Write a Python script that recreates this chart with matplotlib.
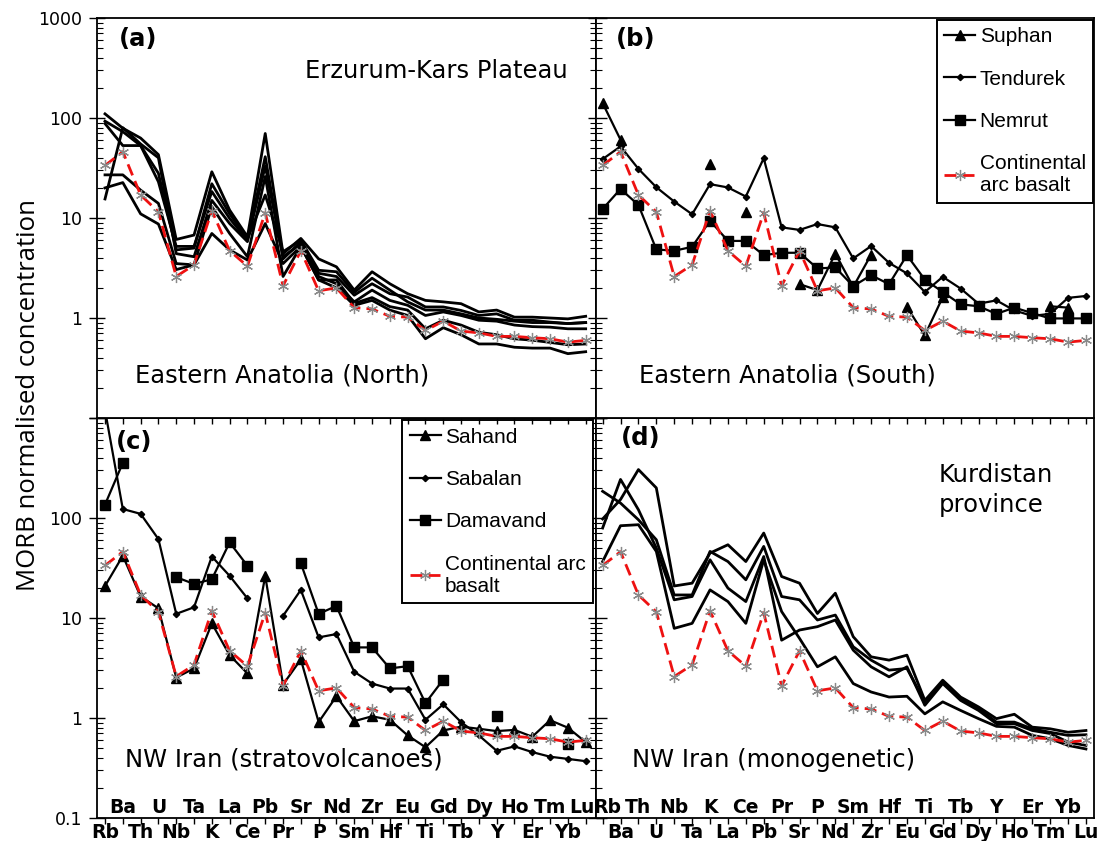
import numpy as np
import matplotlib
matplotlib.use("Agg")
import matplotlib.pyplot as plt
from matplotlib.ticker import FixedLocator, FixedFormatter, LogLocator, NullFormatter

nan = np.nan
elements = ["Rb", "Ba", "Th", "U", "Nb", "Ta", "K", "La", "Ce", "Pb", "Pr", "Sr", "P", "Nd",
            "Sm", "Zr", "Hf", "Eu", "Ti", "Gd", "Tb", "Dy", "Y", "Ho", "Er", "Tm", "Yb", "Lu"]

# Continental arc basalt reference pattern (same in all panels)
cab = [33.5, 46, 17, 11.5, 2.6, 3.4, 11.8, 4.7, 3.3, 11.3, 2.1, 4.7, 1.87, 2.0, 1.27, 1.23,
       1.04, 1.02, 0.75, 0.93, 0.74, 0.71, 0.655, 0.655, 0.635, 0.62, 0.574, 0.597]

# (a) Eastern Anatolia (North) - Erzurum-Kars Plateau
north_1 = [110, 79, 63, 43, 6.1, 6.75, 29, 12, 6.5, 70, 4.4, 6.25, 3.9, 3.25, 1.9, 2.9, 2.2, 1.75,
           1.5, 1.45, 1.39, 1.15, 1.2, 1.02, 1.02, 1.0, 0.98, 1.04]
north_2 = [93, 73, 53, 23, 5.2, 5.2, 18.4, 9.9, 6.0, 41, 3.9, 5.8, 2.8, 2.6, 1.69, 2.2, 1.75, 1.62,
           1.29, 1.29, 1.19, 1.06, 1.1, 0.95, 0.95, 0.91, 0.88, 0.9]
north_3 = [15.5, 80, 55, 40, 4.4, 4.1, 15, 8.8, 5.8, 33, 4.1, 5.5, 2.6, 2.2, 1.45, 1.9, 1.5, 1.34,
           1.06, 1.15, 1.06, 0.95, 0.93, 0.85, 0.82, 0.81, 0.78, 0.78]
north_4 = [27, 27, 19, 14, 3.5, 3.4, 13, 7.0, 4.1, 26, 2.6, 5.2, 2.4, 2.4, 1.4, 1.6, 1.3, 1.2,
           0.78, 0.95, 0.85, 0.72, 0.68, 0.62, 0.6, 0.57, 0.54, 0.55]
north_5 = [20, 22.6, 11, 8.7, 3.05, 3.4, 7.0, 4.8, 3.8, 8.8, 3.5, 5.2, 2.4, 2.0, 1.34, 1.5, 1.2, 1.06,
           0.62, 0.8, 0.68, 0.55, 0.55, 0.51, 0.5, 0.5, 0.44, 0.46]
north_6 = [88, 53, 53, 28, 4.8, 5.0, 22, 11, 6.2, 17, 4.6, 6.0, 3.0, 2.9, 1.8, 2.5, 1.9, 1.45,
           1.2, 1.2, 1.1, 1.0, 0.97, 0.93, 0.9, 0.9, 0.88, 0.9]

# (b) Eastern Anatolia (South)
suphan = [141, 60.6, nan, nan, nan, nan, 34.8, nan, 11.6, nan, nan, 2.18, 1.9, 4.4, 2.05, 4.3,
          nan, 1.29, 0.67, 1.62, nan, nan, nan, nan, nan, 1.31, 1.27, nan]
tendurek = [38.8, 52, 31, 20.3, 14.6, 10.9, 21.8, 20.2, 16.4, 39.6, 8.06, 7.6, 8.7, 8.06, 3.94,
            5.24, 3.56, 2.79, 1.82, 2.58, 1.97, 1.39, 1.5, 1.19, 1.05, 1.1, 1.59, 1.66]
nemrut = [12.3, 19.5, 13.5, 4.85, 4.7, 5.15, 9.4, 5.9, 5.9, 4.25, 4.49, 4.49, 3.13, 3.2, 2.08,
          2.68, 2.18, 4.25, 2.42, 1.82, 1.37, 1.31, 1.1, 1.27, 1.12, 0.99, 0.99, 0.99]

# (c) NW Iran stratovolcanoes
sahand = [20.9, 41.9, 16.4, 12.5, 2.54, 3.13, 8.84, 4.25, 2.79, 26.4, 2.16, 3.85, 0.91, 1.65, 0.93,
          1.04, 0.96, 0.67, 0.51, 0.75, 0.82, 0.78, 0.74, 0.76, 0.65, 0.95, 0.8, 0.574]
sabalan = [1200, 123, 110, 61.5, 11.0, 12.8, 41.2, 26.4, 15.7, nan, 10.5, 19.1, 6.4, 6.91, 2.9,
           2.21, 1.97, 1.97, 0.96, 1.37, 0.91, 0.67, 0.47, 0.52, 0.456, 0.41, 0.39, 0.37]
damavand = [136, 356, nan, nan, 25.6, 21.9, 24.4, 57, 33.3, nan, nan, 35.3, 11.0, 13.2, 5.08,
            5.08, 3.13, 3.3, 1.41, 2.42, nan, nan, 1.04, nan, nan, nan, 0.55, nan]

# (d) NW Iran monogenetic - Kurdistan province
kurd_1 = [97.8, 153, 305, 200, 20.9, 22.3, 44.6, 54, 36.7, 70.7, 26, 22.3, 11.1, 17.7, 6.5, 4.09,
          3.79, 4.25, 1.5, 2.39, 1.62, 1.29, 0.985, 1.09, 0.81, 0.78, 0.72, 0.75]
kurd_2 = [185, 141, 96, 60.6, 17, 17, 46.3, 36.7, 24.1, 52, 16.4, 15.2, 9.55, 10.7, 5.16, 3.79,
          3.01, 3.13, 1.45, 2.30, 1.56, 1.24, 0.91, 0.91, 0.78, 0.72, 0.67, 0.68]
kurd_3 = [79.4, 243, 121, 50, 15.2, 16.4, 38.2, 19.9, 14.6, 41.2, 6.0, 7.58, 8.19, 9.55, 4.77,
          3.25, 2.58, 3.25, 1.34, 2.21, 1.5, 1.19, 0.877, 0.877, 0.75, 0.70, 0.574, 0.532]
kurd_4 = [36.7, 83.7, 85.7, 46.3, 7.88, 8.84, 19.1, 14.6, 8.84, 38.2, 11.6, 6.25, 3.25, 4.09, 2.21,
          1.82, 1.62, 1.65, 1.10, 1.45, 1.19, 0.985, 0.825, 0.81, 0.67, 0.62, 0.532, 0.49]

x = np.arange(len(elements))

W, H = 1100, 841
fig = plt.figure(figsize=(W / 100, H / 100), dpi=100)

def px_axes(x0, x1, y0, y1):
    return fig.add_axes([x0 / W, 1 - y1 / H, (x1 - x0) / W, (y1 - y0) / H])

ax_c = px_axes(97, 596, 418, 818)
ax_d = px_axes(596, 1094, 418, 818)
ax_a = px_axes(97, 596, 18, 418)
ax_b = px_axes(596, 1094, 18, 418)
ax_a.set_zorder(3)
ax_b.set_zorder(3)

RED = "#ee1111"
GREY = "#8a8a8a"

def plot_cab(ax):
    return ax.plot(x, cab, color=RED, lw=2.0, dashes=(4.3, 2.2), marker=(6, 2, 0),
                   ms=8, mec=GREY, mfc=GREY, mew=0.9, zorder=5,
                   label="Continental arc basalt")[0]

def style(ax, top, right_panel):
    ax.set_yscale("log")
    ax.set_ylim(0.1, 1000)
    if right_panel:
        ax.set_xlim(-0.37, 27.45)
    else:
        ax.set_xlim(-0.45, 27.58)
    ax.set_xticks(x)
    ax.set_xticklabels([])
    ax.tick_params(axis="x", direction="out", length=4, width=1.0, bottom=True, top=False)
    ax.yaxis.set_major_locator(FixedLocator([0.1, 1, 10, 100, 1000]))
    ax.yaxis.set_minor_locator(LogLocator(base=10, subs=np.arange(2, 10), numticks=20))
    ax.yaxis.set_minor_formatter(NullFormatter())
    if right_panel:
        ax.yaxis.set_major_formatter(FixedFormatter(["", "", "", "", ""]))
        ax.tick_params(axis="y", which="major", direction="in", length=8, width=1.0,
                       left=True, right=False)
        ax.tick_params(axis="y", which="minor", direction="in", length=4, width=0.8,
                       left=True, right=False)
    else:
        if top:
            labs = ["", "1", "10", "100", "1000"]
        else:
            labs = ["0.1", "1", "10", "100", ""]
        ax.yaxis.set_major_formatter(FixedFormatter(labs))
        ax.tick_params(axis="y", which="major", direction="inout", length=11, width=1.0,
                       left=True, right=True, labelsize=12.5, pad=5)
        ax.tick_params(axis="y", which="minor", direction="in", length=4, width=0.8,
                       left=True, right=True)
    for s in ax.spines.values():
        s.set_linewidth(1.3)
        s.set_color("black")

def element_labels(ax, upper_even, nudge):
    for i, el in enumerate(elements):
        upper = (i % 2 == 0) == upper_even
        dx = nudge.get(el, 0)
        if upper:
            ax.annotate(el, (i, 0), xycoords=("data", "axes fraction"), xytext=(dx, 0.5),
                        textcoords="offset points", ha="center", va="bottom",
                        fontsize=13.5, fontweight="bold", annotation_clip=False)
        else:
            ax.annotate(el, (i, 0), xycoords=("data", "axes fraction"), xytext=(dx, -3.5),
                        textcoords="offset points", ha="center", va="top",
                        fontsize=13.5, fontweight="bold", annotation_clip=False)

TXT = 17.5
LEG = dict(frameon=True, fancybox=False, prop={"family": "Liberation Sans", "size": 15},
           handlelength=1.5, handletextpad=0.2, labelspacing=1.12, borderpad=0.35,
           numpoints=1, borderaxespad=0.0)

# ---- (a)
for series in [north_1, north_2, north_3, north_4, north_5, north_6]:
    ax_a.plot(x, series, color="black", lw=2.0, zorder=3)
plot_cab(ax_a)
style(ax_a, top=True, right_panel=False)
ax_a.text(0.044, 0.947, "(a)", transform=ax_a.transAxes, fontsize=17.5, fontweight="bold",
          va="center", ha="left")
ax_a.text(0.417, 0.85, "Erzurum-Kars Plateau", transform=ax_a.transAxes, fontsize=TXT,
          va="baseline", ha="left")
ax_a.text(0.076, 0.09, "Eastern Anatolia (North)", transform=ax_a.transAxes, fontsize=TXT,
          va="baseline", ha="left")

# ---- (b)
l1, = ax_b.plot(x, suphan, color="black", lw=1.6, marker="^", ms=7, label="Suphan", zorder=4)
l2, = ax_b.plot(x, tendurek, color="black", lw=1.6, marker="D", ms=3.2, label="Tendurek", zorder=4)
l3, = ax_b.plot(x, nemrut, color="black", lw=1.6, marker="s", ms=6.5, label="Nemrut", zorder=4)
l4 = plot_cab(ax_b)
style(ax_b, top=True, right_panel=True)
ax_b.text(0.04, 0.947, "(b)", transform=ax_b.transAxes, fontsize=17.5, fontweight="bold",
          va="center", ha="left")
ax_b.text(0.086, 0.09, "Eastern Anatolia (South)", transform=ax_b.transAxes, fontsize=TXT,
          va="baseline", ha="left")
leg_b = ax_b.legend([l1, l2, l3, l4], ["Suphan", "Tendurek", "Nemrut", "Continental\narc basalt"],
                    loc="upper right", bbox_to_anchor=(0.998, 0.995), **LEG)
leg_b.get_frame().set_edgecolor("black")
leg_b.get_frame().set_linewidth(1.4)
leg_b.get_frame().set_alpha(1)

# ---- (c)
m1, = ax_c.plot(x, sahand, color="black", lw=1.6, marker="^", ms=7, label="Sahand", zorder=4)
m2, = ax_c.plot(x, sabalan, color="black", lw=1.6, marker="D", ms=3.2, label="Sabalan", zorder=4)
m3, = ax_c.plot(x, damavand, color="black", lw=1.6, marker="s", ms=7.5, label="Damavand", zorder=4)
m4 = plot_cab(ax_c)
style(ax_c, top=False, right_panel=False)
element_labels(ax_c, upper_even=False, nudge={"Lu": -2.5})
ax_c.text(0.038, 0.94, "(c)", transform=ax_c.transAxes, fontsize=17.5, fontweight="bold",
          va="center", ha="left")
ax_c.text(0.056, 0.1275, "NW Iran (stratovolcanoes)", transform=ax_c.transAxes, fontsize=TXT,
          va="baseline", ha="left")
leg_c = ax_c.legend([m1, m2, m3, m4], ["Sahand", "Sabalan", "Damavand", "Continental arc\nbasalt"],
                    loc="lower right", bbox_to_anchor=(0.994, 0.5375), **LEG)
leg_c.get_frame().set_edgecolor("black")
leg_c.get_frame().set_linewidth(1.4)
leg_c.get_frame().set_alpha(1)

# ---- (d)
for series in [kurd_1, kurd_2, kurd_3, kurd_4]:
    ax_d.plot(x, series, color="black", lw=2.0, zorder=3)
plot_cab(ax_d)
style(ax_d, top=False, right_panel=True)
element_labels(ax_d, upper_even=True, nudge={"Rb": 3.0})
ax_d.text(0.05, 0.95, "(d)", transform=ax_d.transAxes, fontsize=17.5, fontweight="bold",
          va="center", ha="left")
ax_d.text(0.689, 0.84, "Kurdistan", transform=ax_d.transAxes, fontsize=TXT, va="baseline", ha="left")
ax_d.text(0.689, 0.765, "province", transform=ax_d.transAxes, fontsize=TXT, va="baseline", ha="left")
ax_d.text(0.072, 0.1275, "NW Iran (monogenetic)", transform=ax_d.transAxes, fontsize=TXT,
          va="baseline", ha="left")

fig.text(29 / W, 1 - 395 / H, "MORB normalised concentration", rotation=90, ha="center",
         va="center", fontsize=18.5, family="Open Sans")

fig.savefig("out.png", dpi=100)
